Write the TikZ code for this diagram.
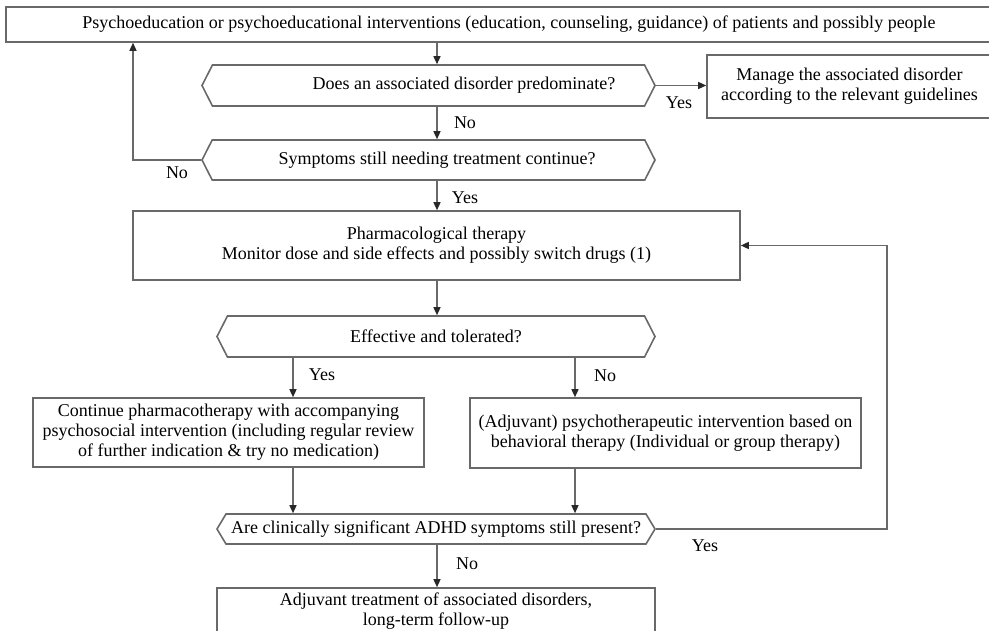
\documentclass[tikz,border=0pt]{standalone}
\usepackage{fontspec}
\setmainfont{Liberation Serif}
\usepackage{tikz}
\usetikzlibrary{shapes.symbols,arrows.meta}
\definecolor{flowgray}{RGB}{105,105,105}
\definecolor{tipgray}{RGB}{40,40,40}
\tikzset{every picture/.style={line width=1.4pt}}
\tikzset{
  procbox/.style={draw=flowgray, line width=1.6pt, rectangle, align=center, inner sep=0pt, font=\fontsize{18}{20}\selectfont},
  decision/.style={draw=flowgray, line width=1.6pt, signal, signal to=west and east, signal pointer angle=126, align=center, inner sep=0pt, font=\fontsize{18}{20}\selectfont},
  flowarrow/.style={draw=flowgray, -{Triangle[length=8pt,width=7pt,color=tipgray]}},
  answer/.style={inner sep=0pt, font=\fontsize{18}{20}\selectfont}
}

\begin{document}
\begin{tikzpicture}[x=1pt,y=1pt,yscale=-1,xscale=1]
\path[use as bounding box, clip] (0,0) rectangle (989,631);

%Boxes
\node (top) [procbox, minimum width=1006pt, minimum height=35pt] at (509,24.5) {Psychoeducation or psychoeducational interventions (education, counseling, guidance) of patients and possibly people};
\node (manage) [procbox, minimum width=285pt, minimum height=63pt] at (849.5,86.5) {Manage the associated disorder\\according to the relevant guidelines};
\node (pharma) [procbox, minimum width=607pt, minimum height=69pt] at (436.5,245.5) {Pharmacological therapy\\Monitor dose and side effects and possibly switch drugs (1)};
\node (cont) [procbox, minimum width=391pt, minimum height=69pt] at (228.5,432.5) {Continue pharmacotherapy with accompanying\\psychosocial intervention (including regular review\\of further indication \& try no medication)};
\node (adjuv) [procbox, minimum width=391pt, minimum height=70pt] at (665.5,433) {(Adjuvant) psychotherapeutic intervention based on\\behavioral therapy (Individual or group therapy)};
\node (final) [procbox, minimum width=438pt, minimum height=46pt] at (436,611) {Adjuvant treatment of associated disorders,\\long-term follow-up};

%Decisions
\node (dec1) [decision, minimum width=453pt, minimum height=41pt] at (428.5,85.5) {\hspace*{71pt}Does an associated disorder predominate?};
\node (dec2) [decision, minimum width=453pt, minimum height=40pt] at (428.5,160) {\hspace*{17pt}Symptoms still needing treatment continue?};
\node (effect) [decision, minimum width=438pt, minimum height=41pt] at (436,336.5) {Effective and tolerated?};
\node (adhd) [decision, signal pointer angle=118, minimum width=438pt, minimum height=30pt] at (436,529) {Are clinically significant ADHD symptoms still present?};

%Turning points
\coordinate (spine) at (437,0);
\coordinate (yesX) at (293,0);
\coordinate (noX) at (575,0);
\coordinate (loopL) at (133,160);
\coordinate (loopR) at (887,529);

%Connectors
\draw[flowarrow] (top.south -| spine) -- (dec1.north -| spine);
\draw[flowarrow] (dec1.east) -- (dec1.east -| manage.west);
\draw[flowarrow] (dec1.south -| spine) -- (dec2.north -| spine);
\draw[flowarrow] (dec2.west) -- (loopL) -- (loopL |- top.south);
\draw[flowarrow] (dec2.south -| spine) -- (pharma.north -| spine);
\draw[flowarrow] (pharma.south -| spine) -- (effect.north -| spine);
\draw[flowarrow] (effect.south -| yesX) -- (cont.north -| yesX);
\draw[flowarrow] (effect.south -| noX) -- (adjuv.north -| noX);
\draw[flowarrow] (cont.south -| yesX) -- (adhd.north -| yesX);
\draw[flowarrow] (adjuv.south -| noX) -- (adhd.north -| noX);
\draw[flowarrow] (adhd.south -| spine) -- (final.north -| spine);
\draw[flowarrow] (adhd.east) -- (loopR) |- (pharma.east);

% Text Node
\node (yesA) [answer] at (679,103) {Yes};
\node (noA) [answer] at (465,123) {No};
\node (noB) [answer] at (177,173) {No};
\node (yesB) [answer] at (465,198) {Yes};
\node (yesC) [answer] at (322,375) {Yes};
\node (noC) [answer] at (605,376) {No};
\node (noD) [answer] at (467,564) {No};
\node (yesD) [answer] at (705,546) {Yes};

\end{tikzpicture}
\end{document}
